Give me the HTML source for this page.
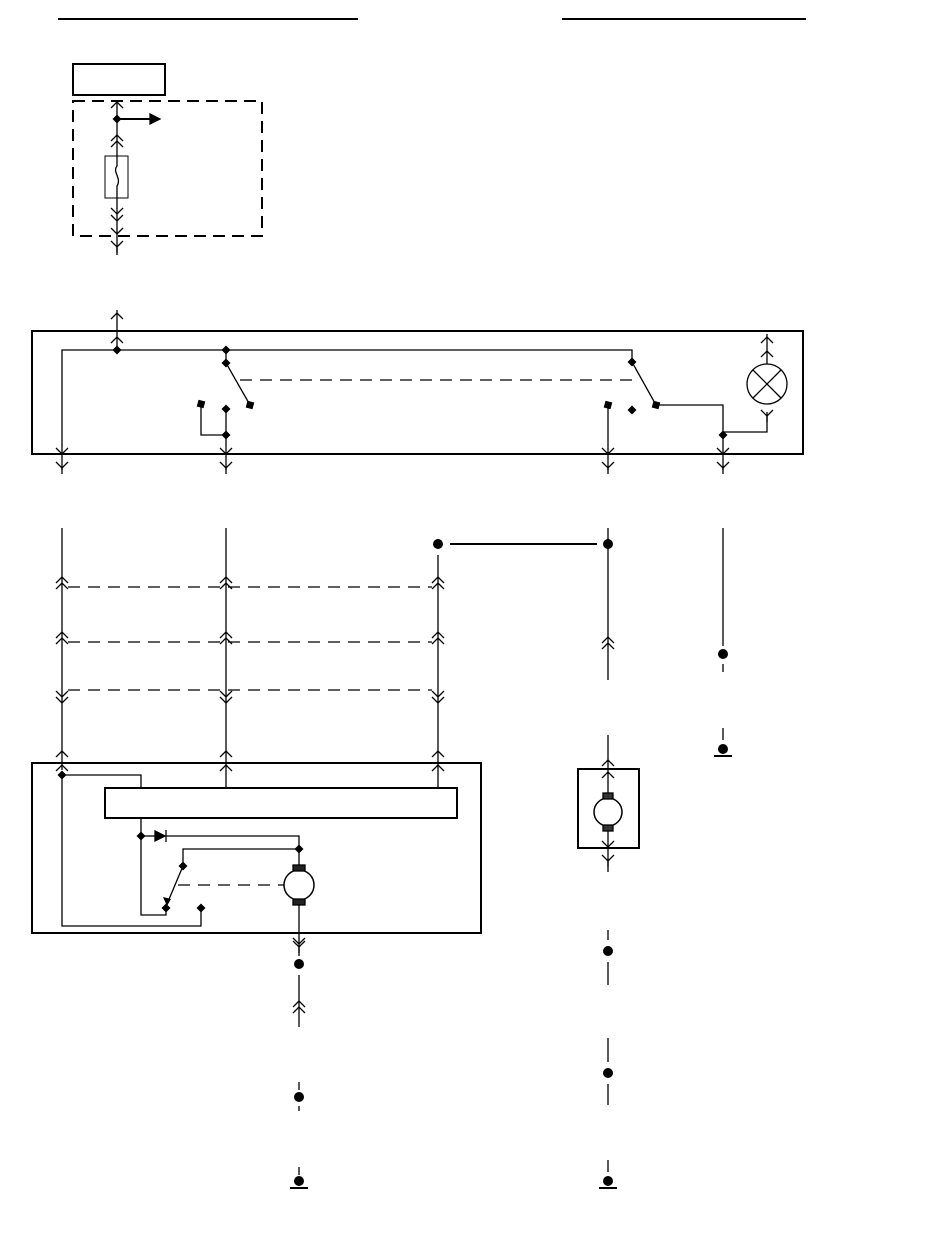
<!DOCTYPE html>
<html><head><meta charset="utf-8"><style>html,body{margin:0;padding:0;background:#fff}svg{display:block}</style></head>
<body>
<svg id="s" width="950" height="1254" viewBox="0 0 950 1254" xmlns="http://www.w3.org/2000/svg" fill="none" stroke="#000" stroke-width="1.3">
<g stroke-width="2">
<line x1="58" y1="19" x2="358" y2="19"/><line x1="562" y1="19" x2="806" y2="19"/>
<rect x="73" y="64" width="92" height="31"/>
<rect x="73" y="101" width="189" height="135" stroke-dasharray="12,7"/>
<rect x="32" y="331" width="771" height="123"/>
<rect x="32" y="763" width="449" height="170"/>
<rect x="105" y="788" width="352" height="30"/>
<rect x="578" y="769" width="61" height="79"/>
<line x1="450" y1="544" x2="597" y2="544"/>
<line x1="714" y1="756" x2="732" y2="756"/>
<line x1="290" y1="1188" x2="308" y2="1188"/>
<line x1="599" y1="1188" x2="617" y2="1188"/>
</g>
<g stroke-dasharray="12,8">
<line x1="240" y1="380" x2="638" y2="380"/>
<line x1="68" y1="587" x2="432" y2="587"/>
<line x1="68" y1="642" x2="432" y2="642"/>
<line x1="68" y1="690" x2="432" y2="690"/>
<line x1="178" y1="885" x2="284" y2="885"/>
</g>
<polyline points="117,101 117,156"/><rect x="105" y="156" width="23" height="42" stroke-width="1"/>
<path d="M117,156 v10 c-5,6 5,12 0,20 v12"/>
<polyline points="117,198 117,255"/>
<line x1="117" y1="119" x2="150" y2="119" stroke-width="2"/><polygon points="150,114 160,119 150,124" fill="#000"/>
<polyline points="117,310 117,350"/>
<polyline points="62,470 62,350 632,350 632,362"/>
<polyline points="226,350 226,363 250,405"/>
<polyline points="201,404 201,435 226,435"/>
<polyline points="226,409 226,470"/>
<polyline points="632,362 656,405 723,405 723,470"/>
<polyline points="608,405 608,470"/>
<circle cx="767" cy="384" r="20"/>
<line x1="753" y1="370" x2="781" y2="398"/><line x1="781" y1="370" x2="753" y2="398"/>
<polyline points="767,334 767,364"/>
<polyline points="767,412 767,432 723,432"/>
<polyline points="62,528 62,770"/><polyline points="226,528 226,788"/><polyline points="438,555 438,788"/>
<polyline points="608,528 608,680"/>
<polyline points="723,528 723,646"/><line x1="723" y1="664" x2="723" y2="672"/><line x1="723" y1="728" x2="723" y2="740"/>
<polyline points="608,735 608,798"/><polyline points="608,826 608,872"/>
<circle cx="608" cy="812" r="14" stroke-width="1.5"/>
<rect x="603" y="793" width="10" height="6" fill="#333"/><rect x="603" y="825" width="10" height="6" fill="#333"/>
<polyline points="62,775 141,775 141,788"/>
<polyline points="62,775 62,926 201,926 201,908"/>
<polyline points="141,818 141,915 166,915 166,908"/>
<polyline points="141,836 155,836"/><polygon points="155,831 165,836 155,841" fill="#000"/><line x1="166" y1="830" x2="166" y2="842"/>
<polyline points="166,836 299,836 299,870"/>
<polyline points="299,849 183,849 183,866 167,904"/>
<circle cx="299" cy="885" r="15" stroke-width="1.5"/>
<rect x="293" y="865" width="12" height="6" fill="#222"/><rect x="293" y="899" width="12" height="6" fill="#222"/>
<polyline points="299,905 299,956"/>
<line x1="299" y1="975" x2="299" y2="1027"/>
<line x1="299" y1="1082" x2="299" y2="1090"/><line x1="299" y1="1106" x2="299" y2="1111"/>
<line x1="299" y1="1167" x2="299" y2="1175"/>
<line x1="608" y1="930" x2="608" y2="940"/><line x1="608" y1="962" x2="608" y2="985"/>
<line x1="608" y1="1038" x2="608" y2="1062"/><line x1="608" y1="1084" x2="608" y2="1105"/>
<line x1="608" y1="1160" x2="608" y2="1172"/>
<g id="dyn"></g>
</svg>
<script>
var g=document.getElementById('dyn'),h='';
function D(x,y){h+='<polygon points="'+x+','+(y-4.5)+' '+(x+4.5)+','+y+' '+x+','+(y+4.5)+' '+(x-4.5)+','+y+'" fill="#000" stroke="none"/>';}
function S(x,y){h+='<rect x="'+(x-3.5)+'" y="'+(y-3.5)+'" width="7" height="7" fill="#000" stroke="none" transform="rotate(15 '+x+' '+y+')"/>';}
function U(x,y){h+='<polyline points="'+(x-6)+','+(y+6)+' '+x+','+y+' '+(x+6)+','+(y+6)+'"/>';}
function V(x,y){h+='<polyline points="'+(x-6)+','+(y-6)+' '+x+','+y+' '+(x+6)+','+(y-6)+'"/>';}
function Y(x,y){h+='<polyline points="'+(x-6)+','+y+' '+x+','+(y+6)+' '+(x+6)+','+y+'"/><line x1="'+x+'" y1="'+(y+6)+'" x2="'+x+'" y2="'+(y+12)+'"/>';}
function C(x,y,r){h+='<circle cx="'+x+'" cy="'+y+'" r="'+(r||5)+'" fill="#000" stroke="none"/>';}
U(117,102);D(117,119);U(117,135);U(117,141);V(117,214);V(117,221);V(117,234);Y(117,241);
U(117,313);U(117,337);D(117,350);
D(226,350);D(226,363);S(250,405);S(201,404);D(226,409);D(226,435);
D(632,362);S(656,405);S(608,405);D(632,410);D(723,435);
U(767,337);U(767,351);Y(767,410);
[62,226,608,723].forEach(function(x){V(x,454);Y(x,462);});
C(438,544);C(608,544);
[62,226,438].forEach(function(x){U(x,577);U(x,583);U(x,632);U(x,638);V(x,697);V(x,703);U(x,751);U(x,765);});
U(608,637);U(608,643);C(723,654);C(723,749);
U(608,760);U(608,772);V(608,847);Y(608,855);
D(62,775);D(141,836);D(299,849);D(183,866);D(166,908);D(201,908);
h+='<polygon points="163,897 167,906 171,899" fill="#000" stroke="none"/>';
V(299,944);Y(299,941);C(299,964);U(299,1001);U(299,1007);C(299,1097);C(299,1181);
C(608,951);C(608,1073);C(608,1181);
g.innerHTML=h;
</script>
</body></html>
